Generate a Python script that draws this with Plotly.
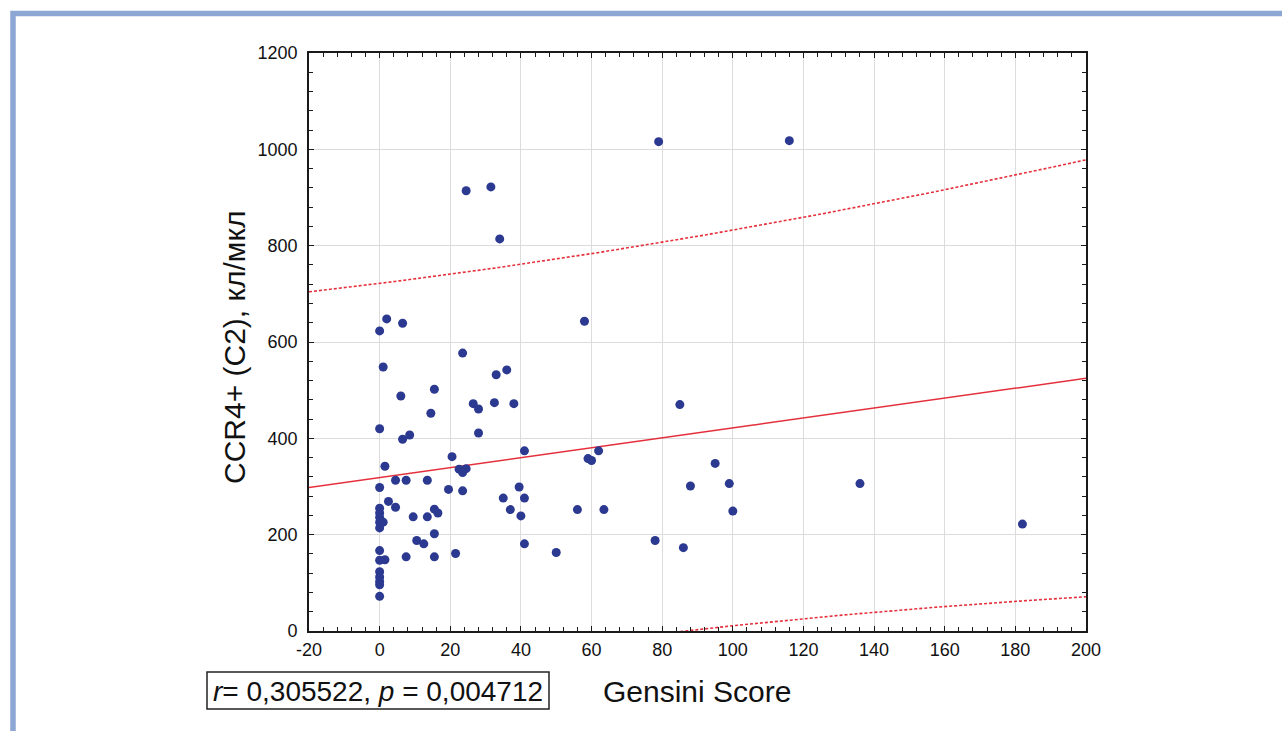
import numpy as np
import plotly.graph_objects as go

# Gensini score vs CCR4+ (C2) count, cells/µl
gensini = [
    0, 0, 0, 0, 0, 0, 0, 0, 0, 0, 0, 0, 0, 0, 0,
    2, 6.5, 1, 23.5, 33, 36, 15.5, 6, 14.5, 26.5, 28, 32.5, 38, 6.5, 8.5,
    28, 41, 20.5, 1.5, 22.5, 23.5, 24.5, 59, 60, 62, 4.5, 7.5, 13.5, 19.5,
    23.5, 39.5, 35, 41, 2.5, 4.5, 1, 37, 56, 63.5, 15.5, 16.5, 9.5, 13.5,
    40, 15.5, 10.5, 12.5, 41, 1.5, 7.5, 15.5, 21.5, 50, 58, 78, 24.5, 31.5,
    34, 79, 116, 85, 95, 88, 99, 136, 86, 100, 182,
]
ccr4 = [
    623, 420, 298, 255, 245, 236, 226, 214, 167, 147, 123, 112, 103, 96, 72,
    648, 639, 548, 577, 532, 542, 502, 488, 452, 472, 461, 474, 472, 398, 407,
    411, 374, 362, 342, 336, 329, 337, 358, 354, 374, 313, 313, 313, 294,
    291, 299, 276, 276, 269, 257, 226, 252, 252, 252, 253, 245, 237, 237,
    239, 202, 188, 181, 181, 148, 154, 154, 161, 163, 643, 188, 914, 922,
    814, 1016, 1018, 470, 348, 301, 306, 306, 173, 249, 222,
]

x_ticks = [-20, 0, 20, 40, 60, 80, 100, 120, 140, 160, 180, 200]
x_tick_labels = ["-20", "0", "20", "40", "60", "80", "100", "120", "140", "160", "180", "200"]
y_ticks = [0, 200, 400, 600, 800, 1000, 1200]
y_tick_labels = ["0", "200", "400", "600", "800", "1000", "1200"]
stats_text = "<i>r</i>= 0,305522, <i>p</i> = 0,004712"
T_CRIT = 1.99  # two-sided 95% Student t for n-2 degrees of freedom

# least-squares fit with 95% prediction band
xa = np.asarray(gensini, float)
ya = np.asarray(ccr4, float)
n = xa.size
slope, intercept = np.polyfit(xa, ya, 1)
resid = ya - (intercept + slope * xa)
s = np.sqrt(np.sum(resid ** 2) / (n - 2))
xm = xa.mean()
sxx = np.sum((xa - xm) ** 2)
xf = np.linspace(x_ticks[0], x_ticks[-1], 300)
yf = intercept + slope * xf
half = T_CRIT * s * np.sqrt(1 + 1 / n + (xf - xm) ** 2 / sxx)

RED = "#E5303C"
fig = go.Figure()
fig.add_trace(go.Scatter(x=xf, y=yf + half, mode="lines",
                         line=dict(color=RED, width=1.6, dash="3px,2px"), hoverinfo="skip"))
fig.add_trace(go.Scatter(x=xf, y=yf - half, mode="lines",
                         line=dict(color=RED, width=1.6, dash="3px,2px"), hoverinfo="skip"))
fig.add_trace(go.Scatter(x=xf, y=yf, mode="lines",
                         line=dict(color=RED, width=1.5), hoverinfo="skip"))
fig.add_trace(go.Scatter(x=gensini, y=ccr4, mode="markers",
                         marker=dict(color="#2B3990", size=9, line=dict(width=0))))

# plot area in pixels
L, R, T, B = 309, 1086, 53, 631
W, H = 1282, 731


def px(xp):
    return (xp - L) / (R - L)


def py(yp):
    return (B - yp) / (B - T)


axis_common = dict(
    showline=True, linecolor="#1a1a1a", linewidth=1.6, mirror="allticks",
    ticks="inside", ticklen=5, tickwidth=1.2, tickcolor="#1a1a1a",
    showgrid=True, gridcolor="#DCDCDC", gridwidth=1, zeroline=False,
    tickfont=dict(family="Liberation Sans, Arial, sans-serif", size=18, color="#111"),
)

fig.update_xaxes(range=[-20, 200], tickvals=x_ticks, ticktext=x_tick_labels,
                 ticklabelstandoff=2,
                 minor=dict(ticks="inside", dtick=4, tick0=0, ticklen=4, tickcolor="#1a1a1a",
                            showgrid=False),
                 **axis_common)
fig.update_yaxes(range=[0, 1200], tickvals=y_ticks, ticktext=y_tick_labels,
                 ticklabelstandoff=6,
                 minor=dict(ticks="inside", dtick=40, tick0=0, ticklen=4, tickcolor="#1a1a1a",
                            showgrid=False),
                 **axis_common)

TITLE_FONT = dict(family="Liberation Sans, Arial, sans-serif", size=30, color="#111")
STATS_FONT = dict(family="Liberation Sans, Arial, sans-serif", size=28, color="#111")
fig.update_layout(
    width=W, height=H, autosize=False,
    margin=dict(l=L, r=W - R, t=T, b=H - B),
    paper_bgcolor="white", plot_bgcolor="white",
    showlegend=False,
    shapes=[
        # page frame (top and left edges visible)
        dict(type="rect", xref="paper", yref="paper",
             x0=px(13), x1=px(W + 20), y0=py(H + 20), y1=py(13.5),
             line=dict(color="#8DA7D4", width=5.5), layer="above"),
        # box around the statistics label
        dict(type="rect", xref="paper", yref="paper",
             x0=px(207), x1=px(549), y0=py(709), y1=py(672),
             line=dict(color="#222", width=1.5)),
    ],
    annotations=[
        dict(text="Gensini Score", xref="paper", yref="paper", x=px(697), y=py(691),
             showarrow=False, font=TITLE_FONT, xanchor="center", yanchor="middle"),
        dict(text="CCR4+ (C2), кл/мкл", xref="paper", yref="paper", x=px(235), y=py(348),
             showarrow=False, font=TITLE_FONT, textangle=-90, xanchor="center", yanchor="middle"),
        dict(text=stats_text, xref="paper", yref="paper", x=px(378), y=py(691),
             showarrow=False, font=STATS_FONT, xanchor="center", yanchor="middle"),
    ],
)

fig.write_html("out.html")
